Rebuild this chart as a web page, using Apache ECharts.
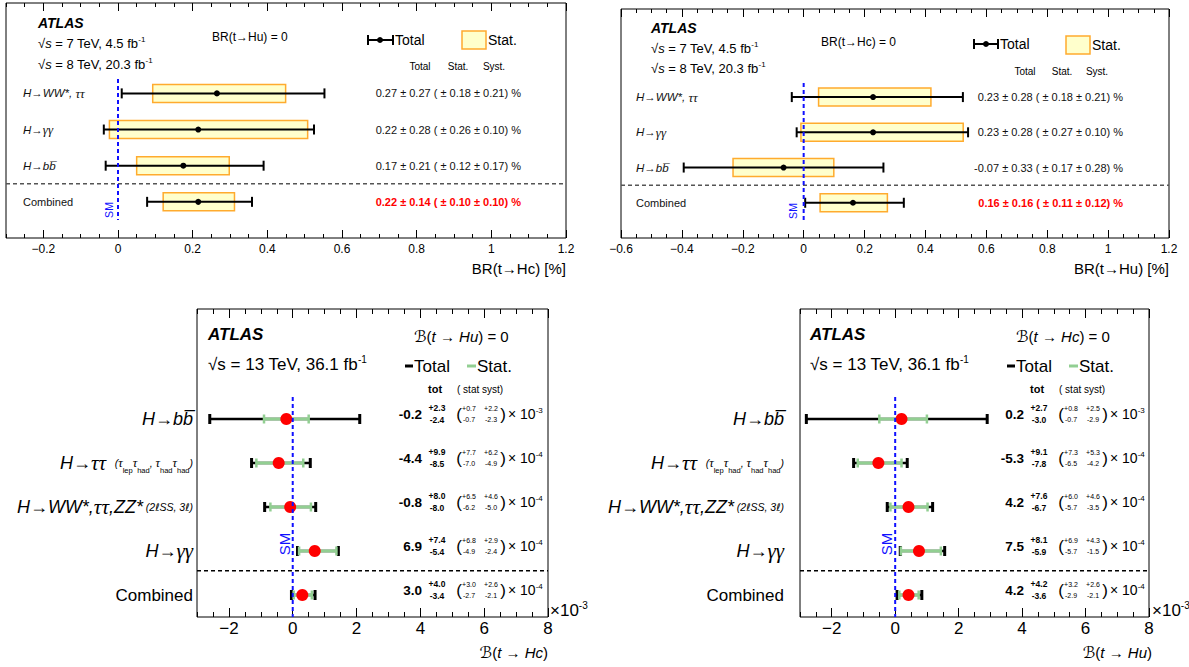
<!DOCTYPE html>
<html>
<head>
<meta charset="utf-8">
<script src="https://cdn.jsdelivr.net/npm/echarts@6.0.0/dist/echarts.min.js"></script>
<style>
html,body{margin:0;padding:0;background:#fff;}
#chart{width:1189px;height:667px;}
</style>
</head>
<body>
<div id="chart"></div>
<script>
// ======================= DATA =======================
// Panel A (top-left): Run 1, BR(t→Hc) [%], BR(t→Hu) = 0
const run1HcCategories = ['H→WW*, ττ', 'H→γγ', 'H→bb\u0305', 'Combined'];
const run1HcCentral   = [0.265, 0.215, 0.175, 0.215];
const run1HcTotalLow  = [0.010, -0.038, -0.033, 0.078];
const run1HcTotalHigh = [0.553, 0.525, 0.390, 0.359];
const run1HcStatLow   = [0.093, -0.023, 0.050, 0.121];
const run1HcStatHigh  = [0.449, 0.508, 0.298, 0.312];
const run1HcResults = [
  '0.27 ± 0.27 ( ± 0.18 ± 0.21) %',
  '0.22 ± 0.28 ( ± 0.26 ± 0.10) %',
  '0.17 ± 0.21 ( ± 0.12 ± 0.17) %',
  '0.22 ± 0.14 ( ± 0.10 ± 0.10) %'
];
const run1HcTicks = [-0.2, 0, 0.2, 0.4, 0.6, 0.8, 1, 1.2];

// Panel B (top-right): Run 1, BR(t→Hu) [%], BR(t→Hc) = 0
const run1HuCategories = ['H→WW*, ττ', 'H→γγ', 'H→bb\u0305', 'Combined'];
const run1HuCentral   = [0.228, 0.228, -0.066, 0.162];
const run1HuTotalLow  = [-0.039, -0.023, -0.394, 0.005];
const run1HuTotalHigh = [0.523, 0.540, 0.262, 0.329];
const run1HuStatLow   = [0.049, -0.009, -0.232, 0.054];
const run1HuStatHigh  = [0.418, 0.524, 0.099, 0.275];
const run1HuResults = [
  '0.23 ± 0.28 ( ± 0.18 ± 0.21) %',
  '0.23 ± 0.28 ( ± 0.27 ± 0.10) %',
  '-0.07 ± 0.33 ( ± 0.17 ± 0.28) %',
  '0.16 ± 0.16 ( ± 0.11 ± 0.12) %'
];
const run1HuTicks = [-0.6, -0.4, -0.2, 0, 0.2, 0.4, 0.6, 0.8, 1, 1.2];

// Run 2 (13 TeV, 36.1 fb-1), values in units of 1e-3
const run2Categories = ['H→bb\u0305', 'H→ττ', 'H→WW*,ττ,ZZ*', 'H→γγ', 'Combined'];
const run2CategoryNotes = ['',
  '{s|   (}{gs|τ}{b|lep}{gs|τ}{b|had}{s|, }{gs|τ}{b|had}{gs|τ}{b|had}{s|)}',
  '{s| (2}{l|ℓ}{s|SS, 3}{l|ℓ}{s|)}', '', ''];
const run2Exponent = [3, 4, 4, 4, 4];
const run2Ticks = [-2, 0, 2, 4, 6, 8];

// Panel C (bottom-left): B(t→Hc), B(t→Hu) = 0
const run2HcCentral = [-0.20, -0.44, -0.08, 0.69, 0.30];
const run2HcTotUp   = [2.3, 0.99, 0.80, 0.74, 0.40];
const run2HcTotDn   = [2.4, 0.85, 0.80, 0.54, 0.34];
const run2HcStatUp  = [0.7, 0.77, 0.65, 0.68, 0.30];
const run2HcStatDn  = [0.7, 0.70, 0.62, 0.49, 0.27];
const run2HcSystUp  = [2.2, 0.62, 0.46, 0.29, 0.26];
const run2HcSystDn  = [2.3, 0.49, 0.50, 0.24, 0.21];

// Panel D (bottom-right): B(t→Hu), B(t→Hc) = 0
const run2HuCentral = [0.20, -0.53, 0.42, 0.75, 0.42];
const run2HuTotUp   = [2.7, 0.91, 0.76, 0.81, 0.42];
const run2HuTotDn   = [3.0, 0.78, 0.67, 0.59, 0.36];
const run2HuStatUp  = [0.8, 0.73, 0.60, 0.69, 0.32];
const run2HuStatDn  = [0.7, 0.65, 0.57, 0.57, 0.29];
const run2HuSystUp  = [2.5, 0.53, 0.46, 0.43, 0.26];
const run2HuSystDn  = [2.9, 0.42, 0.35, 0.15, 0.21];

// ======================= STYLE / LAYOUT =======================
const FONT = "'Liberation Sans', 'DejaVu Sans', sans-serif";
const SERIF = "'Liberation Serif', 'DejaVu Serif', serif";
const YELLOW = '#ffffcc', ORANGE = '#ffab2e', GREEN = '#92cf92', RED = '#ff0000', BLUE = '#1010ff';

function fmtTick(v) { return String(v).replace('-', '\u2212'); }
function fmtNum(v, k) { return (Math.round(Math.abs(v) * Math.pow(10, k - 3) * 10) / 10).toFixed(1); }
// wrap text into rich tokens, Greek letters in a separate (serif) token
function richify(s, main, greek) {
  let out = '', cur = '';
  for (const ch of s) {
    if (ch === 'τ' || ch === 'γ') {
      if (cur) { out += '{' + main + '|' + cur + '}'; cur = ''; }
      out += '{' + greek + '|' + ch + '}';
    } else cur += ch;
  }
  if (cur) out += '{' + main + '|' + cur + '}';
  return out;
}

const panels = [
  {grid:{left:6, top:3, width:560, height:235}, xmin:-0.3, xmax:1.2, minor:0.05, ticks:run1HcTicks,
   ymin:-2.5, ymax:4, labelSize:12, minorLen:4, majorLen:8, sep:2.5, sm:[-0.4, 3.5], kind:'top'},
  {grid:{left:621, top:9, width:548, height:229}, xmin:-0.6, xmax:1.2, minor:0.05, ticks:run1HuTicks,
   ymin:-2.5, ymax:4, labelSize:12, minorLen:4, majorLen:8, sep:2.5, sm:[-0.4, 3.5], kind:'top'},
  {grid:{left:197, top:309, width:351, height:308}, xmin:-3, xmax:8, minor:0.5, ticks:run2Ticks,
   ymin:-2.5, ymax:4.5, labelSize:17, minorLen:5, majorLen:9, sep:3.45, sm:[-0.5, 4.5], kind:'bot'},
  {grid:{left:800, top:309, width:349, height:308}, xmin:-3, xmax:8, minor:0.5, ticks:run2Ticks,
   ymin:-2.5, ymax:4.5, labelSize:17, minorLen:5, majorLen:9, sep:3.45, sm:[-0.5, 4.5], kind:'bot'}
];

const grids = [], xAxes = [], yAxes = [], series = [];
panels.forEach((p, gi) => {
  grids.push(Object.assign({show:true, borderColor:'#000', borderWidth:1, backgroundColor:'transparent'}, p.grid));
  const base = {type:'value', gridIndex:gi, min:p.xmin, max:p.xmax, splitLine:{show:false}, axisLine:{show:false, onZero:false}};
  const ts = {color:'#000', width:1};
  xAxes.push(Object.assign({}, base, {position:'bottom', interval:p.minor,
    axisTick:{show:true, inside:true, length:p.minorLen, lineStyle:ts},
    axisLabel:{show:true, customValues:p.ticks, formatter:fmtTick, color:'#000', fontSize:p.labelSize, fontFamily:FONT, margin:p.kind === 'top' ? 5 : 3}}));
  xAxes.push(Object.assign({}, base, {position:'bottom',
    axisTick:{show:true, inside:true, length:p.majorLen, customValues:p.ticks, lineStyle:ts}, axisLabel:{show:false}}));
  xAxes.push(Object.assign({}, base, {position:'top', interval:p.minor,
    axisTick:{show:true, inside:true, length:p.minorLen, lineStyle:ts}, axisLabel:{show:false}}));
  xAxes.push(Object.assign({}, base, {position:'top',
    axisTick:{show:true, inside:true, length:p.majorLen, customValues:p.ticks, lineStyle:ts}, axisLabel:{show:false}}));
  yAxes.push({type:'value', gridIndex:gi, min:p.ymin, max:p.ymax, inverse:true, show:false});
  p.xi = gi * 4;
});

function ln(x1, y1, x2, y2, color, w) {
  return {type:'line', shape:{x1, y1, x2, y2}, style:{stroke:color, lineWidth:w}};
}

const topRich = {
  i:{fontStyle:'italic', fontSize:11.5, fontFamily:FONT, fill:'#111'},
  g:{fontStyle:'italic', fontSize:13, fontFamily:SERIF, fill:'#111'},
  r:{fontSize:11, fontFamily:FONT, fill:'#111'}
};

function renderTop(cfg) {
  return function (params, api) {
    const i = params.dataIndex;
    const row = api.value(0);
    const y = api.coord([0, row])[1];
    const X = k => api.coord([api.value(k), row])[0];
    const xc = X(1), tl = X(2), th = X(3), sl = X(4), sh = X(5);
    const comb = i === cfg.categories.length - 1;
    const c = [];
    c.push({type:'rect', shape:{x:sl, y:y - 9, width:sh - sl, height:18}, style:{fill:YELLOW, stroke:ORANGE, lineWidth:1.5}});
    c.push(ln(tl, y, th, y, '#000', 2));
    c.push(ln(tl, y - 5, tl, y + 5, '#000', 2));
    c.push(ln(th, y - 5, th, y + 5, '#000', 2));
    c.push({type:'circle', shape:{cx:xc, cy:y, r:3}, style:{fill:'#000'}});
    const lab = comb ? '{r|' + cfg.categories[i] + '}' : richify(cfg.categories[i], 'i', 'g');
    c.push({type:'text', x:cfg.labelX, y:y, style:{text:lab, rich:topRich, align:'left', verticalAlign:'middle'}});
    c.push({type:'text', x:cfg.valueRight, y:y, style:{text:cfg.results[i], fill:comb ? RED : '#111', fontWeight:comb ? 'bold' : 'normal',
      fontSize:11, fontFamily:FONT, align:'right', verticalAlign:'middle'}});
    return {type:'group', children:c};
  };
}

const botRich = {
  m:{fontStyle:'italic', fontSize:18, fontFamily:FONT, fill:'#000', lineHeight:22},
  g:{fontStyle:'italic', fontSize:21, fontFamily:SERIF, fill:'#000', lineHeight:22},
  r:{fontSize:17, fontFamily:FONT, fill:'#000', lineHeight:22},
  s:{fontStyle:'italic', fontSize:10.5, fontFamily:FONT, fill:'#000', lineHeight:12},
  gs:{fontStyle:'italic', fontSize:12.5, fontFamily:SERIF, fill:'#000', lineHeight:12},
  l:{fontStyle:'italic', fontSize:10.5, fontFamily:"'DejaVu Sans', sans-serif", fill:'#000', lineHeight:12},
  b:{fontSize:7.5, fontFamily:FONT, fill:'#000', lineHeight:19, verticalAlign:'bottom'},
  n:{fontSize:14, fontFamily:FONT, fill:'#000', lineHeight:16},
  e:{fontSize:8, fontFamily:FONT, fill:'#000', lineHeight:9, verticalAlign:'top'}
};

function renderBot(cfg) {
  return function (params, api) {
    const i = params.dataIndex;
    const row = api.value(0);
    const y = api.coord([0, row])[1];
    const X = k => api.coord([api.value(k), row])[0];
    const xc = X(1), tl = X(2), th = X(3), sl = X(4), sh = X(5);
    const o = cfg.off;
    const k = run2Exponent[i];
    const c = [];
    c.push(ln(tl, y, th, y, '#000', 2.5));
    c.push(ln(tl, y - 5, tl, y + 5, '#000', 3));
    c.push(ln(th, y - 5, th, y + 5, '#000', 3));
    c.push(ln(sl, y, sh, y, GREEN, 3));
    c.push(ln(sl, y - 4.5, sl, y + 4.5, GREEN, 2.5));
    c.push(ln(sh, y - 4.5, sh, y + 4.5, GREEN, 2.5));
    c.push({type:'circle', shape:{cx:xc, cy:y, r:6}, style:{fill:RED}});
    const lab = (i === run2Categories.length - 1 ? '{r|' + run2Categories[i] + '}' : richify(run2Categories[i], 'm', 'g')) + run2CategoryNotes[i];
    c.push({type:'text', x:cfg.labelRight, y:y, style:{text:lab, rich:botRich, align:'right', verticalAlign:'middle'}});
    const sc = Math.pow(10, k - 3);
    const cv = (Math.round(cfg.central[i] * sc * 10) / 10).toFixed(1);
    const t = (x, yy, s, size, w, al) => ({type:'text', x:x, y:yy, style:{text:s, fontSize:size, fontWeight:w || 'normal', fontFamily:FONT, fill:'#000', align:al || 'center', verticalAlign:'middle'}});
    c.push(t(422 + o, y - 5, cv, 13.5, 'bold', 'right'));
    c.push(t(437 + o, y - 11, '+' + fmtNum(cfg.totUp[i], k), 8.5, 'bold'));
    c.push(t(437 + o, y + 0.5, '-' + fmtNum(cfg.totDn[i], k), 8.5, 'bold'));
    c.push(t(459 + o, y - 5, '(', 17));
    c.push(t(469 + o, y - 11, '+' + fmtNum(cfg.statUp[i], k), 7));
    c.push(t(469 + o, y + 0.5, '-' + fmtNum(cfg.statDn[i], k), 7));
    c.push(t(491 + o, y - 11, '+' + fmtNum(cfg.systUp[i], k), 7));
    c.push(t(491 + o, y + 0.5, '-' + fmtNum(cfg.systDn[i], k), 7));
    c.push(t(503 + o, y - 5, ')', 17));
    c.push({type:'text', x:508 + o, y:y - 5, style:{text:'{n|× 10}{e|-' + k + '}', rich:botRich, align:'left', verticalAlign:'middle'}});
    return {type:'group', children:c};
  };
}

function rowsOf(central, lo, hi, slo, shi) {
  return central.map((v, i) => [i, v, lo[i], hi[i], slo[i], shi[i]]);
}

const topCfgs = [
  {categories:run1HcCategories, results:run1HcResults, labelX:23, valueRight:521,
   data:rowsOf(run1HcCentral, run1HcTotalLow, run1HcTotalHigh, run1HcStatLow, run1HcStatHigh)},
  {categories:run1HuCategories, results:run1HuResults, labelX:636, valueRight:1123,
   data:rowsOf(run1HuCentral, run1HuTotalLow, run1HuTotalHigh, run1HuStatLow, run1HuStatHigh)}
];
function run2Rows(c, tu, td, su, sd) {
  return c.map((v, i) => [i, v, v - td[i], v + tu[i], v - sd[i], v + su[i]]);
}
const botCfgs = [
  {labelRight:193, off:0, central:run2HcCentral, totUp:run2HcTotUp, totDn:run2HcTotDn, statUp:run2HcStatUp, statDn:run2HcStatDn,
   systUp:run2HcSystUp, systDn:run2HcSystDn, data:run2Rows(run2HcCentral, run2HcTotUp, run2HcTotDn, run2HcStatUp, run2HcStatDn)},
  {labelRight:784, off:602, central:run2HuCentral, totUp:run2HuTotUp, totDn:run2HuTotDn, statUp:run2HuStatUp, statDn:run2HuStatDn,
   systUp:run2HuSystUp, systDn:run2HuSystDn, data:run2Rows(run2HuCentral, run2HuTotUp, run2HuTotDn, run2HuStatUp, run2HuStatDn)}
];

panels.forEach((p, gi) => {
  const top = p.kind === 'top';
  series.push({type:'line', xAxisIndex:p.xi, yAxisIndex:gi, data:[[p.xmin, p.sep], [p.xmax, p.sep]], symbol:'none', silent:true,
    lineStyle:{color:top ? '#555' : '#000', width:1.5, type:[4, 3]}, z:1, animation:false});
  const cfg = top ? topCfgs[gi] : botCfgs[gi - 2];
  series.push({type:'custom', xAxisIndex:p.xi, yAxisIndex:gi, data:cfg.data, clip:false, silent:true, z:2,
    renderItem: top ? renderTop(cfg) : renderBot(cfg)});
  series.push({type:'line', xAxisIndex:p.xi, yAxisIndex:gi, data:[[0, p.sm[0]], [0, p.sm[1]]], symbol:'none', silent:true,
    lineStyle:{color:BLUE, width:2, type:[4, 3]}, z:3, animation:false});
});

// ======================= STATIC TEXT =======================
const G = [];
function txt(x, y, text, size, extra, elExtra) {
  G.push(Object.assign({type:'text', x:x, y:y, silent:true,
    style:Object.assign({text:text, fontSize:size, fontFamily:FONT, fill:'#000', align:'left', verticalAlign:'middle'}, extra || {})}, elExtra || {}));
}
function rtxt(x, y, text, rich, align) {
  G.push({type:'text', x:x, y:y, silent:true, style:{text:text, rich:rich, align:align || 'left', verticalAlign:'middle'}});
}
function gl(x1, y1, x2, y2, color, w) { G.push({type:'line', silent:true, shape:{x1, y1, x2, y2}, style:{stroke:color, lineWidth:w}}); }

const sqrtRichTop = {
  n:{fontSize:13, fontFamily:FONT, fill:'#000', lineHeight:16},
  i:{fontSize:13, fontStyle:'italic', fontFamily:FONT, fill:'#000', lineHeight:16},
  e:{fontSize:8, fontFamily:FONT, fill:'#000', lineHeight:9, verticalAlign:'top'}
};
const sqrtRichBot = {
  n:{fontSize:17, fontFamily:FONT, fill:'#000', lineHeight:20},
  e:{fontSize:10, fontFamily:FONT, fill:'#000', lineHeight:11, verticalAlign:'top'}
};
const brRich = {
  sc:{fontSize:16, fontFamily:"'DejaVu Sans', sans-serif", fill:'#000'},
  n:{fontSize:15, fontFamily:FONT, fill:'#000'},
  i:{fontSize:15, fontFamily:FONT, fontStyle:'italic', fill:'#000'}
};

// Panel A
txt(38, 23, 'ATLAS', 14, {fontWeight:'bold', fontStyle:'italic'});
rtxt(38, 43, '{n|√}{i|s}{n| = 7 TeV, 4.5 fb}{e|-1}', sqrtRichTop);
rtxt(38, 64, '{n|√}{i|s}{n| = 8 TeV, 20.3 fb}{e|-1}', sqrtRichTop);
txt(212, 37, 'BR(t→Hu) = 0', 12);
gl(368, 40, 393, 40, '#000', 2); gl(368, 35, 368, 45, '#000', 2); gl(393, 35, 393, 45, '#000', 2);
G.push({type:'circle', silent:true, shape:{cx:380, cy:40, r:3}, style:{fill:'#000'}});
txt(395, 40, 'Total', 14);
G.push({type:'rect', silent:true, shape:{x:462, y:31, width:24, height:18}, style:{fill:YELLOW, stroke:ORANGE, lineWidth:1.5}});
txt(488, 40, 'Stat.', 14);
txt(420, 66, 'Total', 10, {align:'center'});
txt(458, 66, 'Stat.', 10, {align:'center'});
txt(494, 66, 'Syst.', 10, {align:'center'});
txt(109, 210, 'SM', 10.5, {fill:BLUE, align:'center'}, {rotation:Math.PI / 2});
txt(566, 268, 'BR(t→Hc) [%]', 15, {align:'right'});

// Panel B
txt(651, 28, 'ATLAS', 14, {fontWeight:'bold', fontStyle:'italic'});
rtxt(651, 48, '{n|√}{i|s}{n| = 7 TeV, 4.5 fb}{e|-1}', sqrtRichTop);
rtxt(651, 68, '{n|√}{i|s}{n| = 8 TeV, 20.3 fb}{e|-1}', sqrtRichTop);
txt(821, 42, 'BR(t→Hc) = 0', 12);
gl(974, 44, 998, 44, '#000', 2); gl(974, 39, 974, 49, '#000', 2); gl(998, 39, 998, 49, '#000', 2);
G.push({type:'circle', silent:true, shape:{cx:986, cy:44, r:3}, style:{fill:'#000'}});
txt(1000, 44, 'Total', 14);
G.push({type:'rect', silent:true, shape:{x:1066, y:36, width:24, height:18}, style:{fill:YELLOW, stroke:ORANGE, lineWidth:1.5}});
txt(1092, 45, 'Stat.', 14);
txt(1025, 71, 'Total', 10, {align:'center'});
txt(1062, 71, 'Stat.', 10, {align:'center'});
txt(1097, 71, 'Syst.', 10, {align:'center'});
txt(793, 211, 'SM', 10.5, {fill:BLUE, align:'center'}, {rotation:Math.PI / 2});
txt(1169, 268, 'BR(t→Hu) [%]', 15, {align:'right'});

// Panels C, D
[[0, 'Hu', 'Hc'], [602, 'Hc', 'Hu']].forEach(([o, other, meas]) => {
  txt(208 + o, 334, 'ATLAS', 17, {fontWeight:'bold', fontStyle:'italic'});
  rtxt(208 + o, 364, '{n|√s = 13 TeV, 36.1 fb}{e|-1}', sqrtRichBot);
  rtxt(414 + o, 336, '{sc|ℬ}{n|(}{i|t → ' + other + '}{n|) = 0}', brRich);
  gl(405 + o, 366, 413 + o, 366, '#000', 3);
  txt(414 + o, 366, 'Total', 17);
  gl(467 + o, 366, 476 + o, 366, GREEN, 3);
  txt(477 + o, 366, 'Stat.', 17);
  txt(428 + o, 389, 'tot', 11, {fontWeight:'bold'});
  txt(457 + o, 389, '( stat syst)', 10);
  txt(284 + o, 544, 'SM', 15, {fill:BLUE, align:'center'}, {rotation:Math.PI / 2});
  rtxt(548 + o + (o ? 2 : 0), 652, '{sc|ℬ}{n|(}{i|t → ' + meas + '}{n|)}', brRich, 'right');
  rtxt(550 + o, 610, '{n|×10}{e|-3}', {n:{fontSize:17, fontFamily:FONT, fill:'#000', lineHeight:20}, e:{fontSize:10, fontFamily:FONT, fill:'#000', lineHeight:11, verticalAlign:'top'}});
});

const chart = echarts.init(document.getElementById('chart'), null, {renderer:'svg'});
chart.setOption({
  animation:false,
  backgroundColor:'#fff',
  textStyle:{fontFamily:FONT},
  grid:grids,
  xAxis:xAxes,
  yAxis:yAxes,
  series:series,
  graphic:{elements:G}
});
</script>
</body>
</html>
